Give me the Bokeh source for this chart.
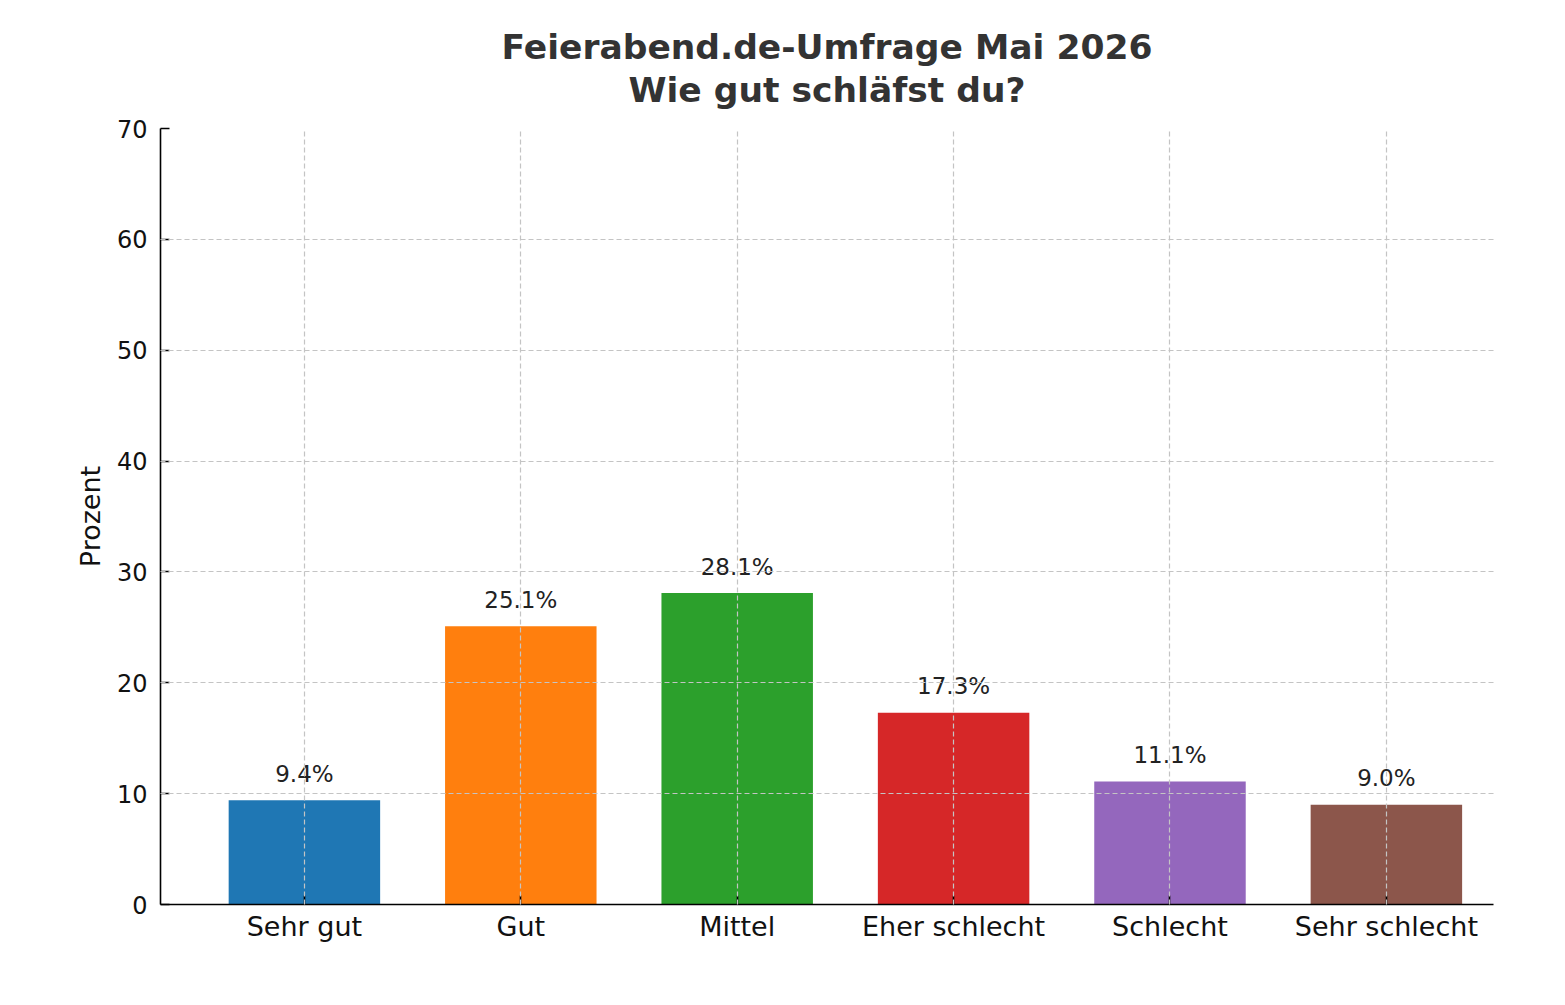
from bokeh.plotting import figure
from bokeh.models import ColumnDataSource, Title, FixedTicker, Range1d
from bokeh.embed import file_html
from bokeh.resources import INLINE

categories = ["Sehr gut", "Gut", "Mittel", "Eher schlecht", "Schlecht", "Sehr schlecht"]
values = [9.4, 25.1, 28.1, 17.3, 11.1, 9.0]
labels = ["9.4%", "25.1%", "28.1%", "17.3%", "11.1%", "9.0%"]
colors = ["#1f77b4", "#ff7f0e", "#2ca02c", "#d62728", "#9467bd", "#8c564b"]
y_ticks = [0, 10, 20, 30, 40, 50, 60, 70]
title_lines = ["Feierabend.de-Umfrage Mai 2026", "Wie gut schläfst du?"]
y_label = "Prozent"

FONT = "DejaVu Sans"

xs = list(range(len(categories)))
src = ColumnDataSource(dict(
    x=xs, top=values, color=colors, label=labels,
    ly=[v + 1.2 for v in values],
))

x0, x1 = -0.665, 5.495
p = figure(width=1549, height=989, output_backend="svg", toolbar_location=None,
           x_range=Range1d(x0, x1), y_range=Range1d(0, 70),
           min_border_left=160, min_border_right=56, min_border_top=128, min_border_bottom=85)
p.title.visible = False
p.background_fill_color = "white"
p.border_fill_color = "white"
p.outline_line_color = None

# titles (added bottom-most first)
p.add_layout(Title(text=title_lines[1], align="center", text_font=FONT, text_font_size="34.5px",
                   text_font_style="bold", text_color="#333333", standoff=38), "above")
p.add_layout(Title(text=title_lines[0], align="center", text_font=FONT, text_font_size="34.5px",
                   text_font_style="bold", text_color="#333333", standoff=-36), "above")

p.vbar(x="x", top="top", width=0.7, bottom=0, color="color", line_color=None, source=src)
p.text(x="x", y="ly", text="label", source=src, text_align="center", text_baseline="bottom",
       text_font={"value": FONT}, text_font_size="23px", text_color="#222222")

p.xaxis.ticker = FixedTicker(ticks=xs)
p.xaxis.major_label_overrides = {i: c for i, c in enumerate(categories)}
p.yaxis.ticker = FixedTicker(ticks=y_ticks)
for ax in (p.xaxis, p.yaxis):
    ax.axis_line_color = "black"
    ax.axis_line_width = 1.6
    ax.major_tick_line_color = "black"
    ax.major_tick_line_width = 1.6
    ax.major_tick_in = 9
    ax.major_tick_out = 0
    ax.minor_tick_line_color = None
    ax.major_label_text_font = FONT
    ax.major_label_text_color = "#111111"
p.xaxis.major_label_text_font_size = "27px"
p.yaxis.major_label_text_font_size = "24px"
p.xaxis.major_label_standoff = 6
p.yaxis.major_label_standoff = 13
p.yaxis.axis_label = y_label
p.yaxis.axis_label_text_font = FONT
p.yaxis.axis_label_text_font_size = "27px"
p.yaxis.axis_label_text_font_style = "normal"
p.yaxis.axis_label_text_color = "#111111"
p.yaxis.axis_label_standoff = 8

for g in (p.xgrid, p.ygrid):
    g.grid_line_color = "#c4c4c4"
    g.grid_line_dash = "5 3"
    g.grid_line_width = 1.2
    g.level = "overlay"

open("out.html", "w").write(file_html(p, INLINE))
